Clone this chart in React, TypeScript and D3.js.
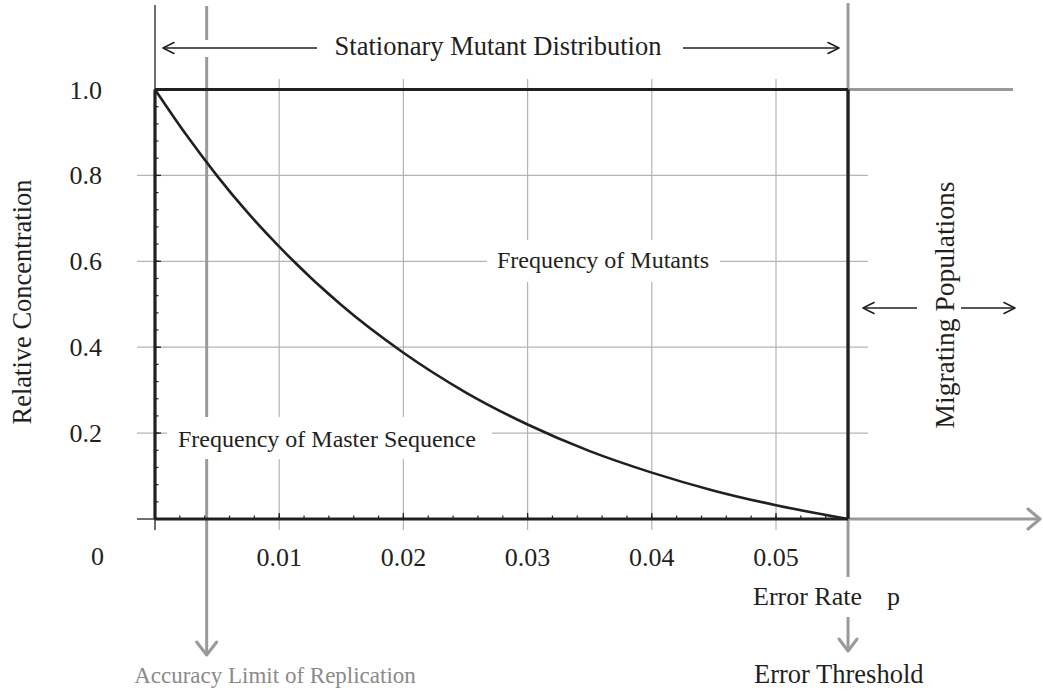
import React from "react";
import * as d3 from "d3";

// ---- data ----
const errorRates = [0, 0.0025, 0.005, 0.0075, 0.01, 0.015, 0.02, 0.025, 0.03, 0.035, 0.04, 0.045, 0.05, 0.0558];
const masterFrequency = [1, 0.895, 0.799, 0.712, 0.634, 0.498, 0.387, 0.295, 0.22, 0.158, 0.108, 0.066, 0.032, 0];
const xTicks = [0.01, 0.02, 0.03, 0.04, 0.05];
const xTickLabels = ["0.01", "0.02", "0.03", "0.04", "0.05"];
const yTicks = [0.2, 0.4, 0.6, 0.8, 1.0];
const yTickLabels = ["0.2", "0.4", "0.6", "0.8", "1.0"];
const errorThreshold = 0.0558;
const accuracyLimit = 0.00416;

const W = 1043;
const H = 693;
const FONT = "'Liberation Serif', 'Times New Roman', serif";
const BLACK = "#231f20";
const GRAY = "#9a9a9a";
const GRID = "#b4b4b4";

export default function App() {
  const x = d3.scaleLinear().domain([0, 0.05]).range([155, 776]);
  const y = d3.scaleLinear().domain([0, 1]).range([519, 89.5]);

  const line = d3
    .line<number>()
    .x((_, i) => x(errorRates[i]))
    .y((d) => y(d))
    .curve(d3.curveMonotoneX);

  const xMinor = d3.range(1, 28).map((i) => i * 0.002).filter((v) => v < errorThreshold - 0.0005);
  const yMinor = d3.range(1, 25).map((i) => i * 0.04);

  const x0 = x(0);
  const xT = x(errorThreshold);
  const xA = x(accuracyLimit);
  const y0 = y(0);
  const y1 = y(1);

  const arrowHead = (tx: number, ty: number, dir: "left" | "right" | "down", len: number, half: number, color: string, sw: number) => {
    let d = "";
    if (dir === "left") d = `M${tx + len},${ty - half} L${tx},${ty} L${tx + len},${ty + half}`;
    if (dir === "right") d = `M${tx - len},${ty - half} L${tx},${ty} L${tx - len},${ty + half}`;
    if (dir === "down") d = `M${tx - half},${ty - len} L${tx},${ty} L${tx + half},${ty - len}`;
    return <path d={d} fill="none" stroke={color} strokeWidth={sw} strokeLinecap="round" strokeLinejoin="round" />;
  };

  return (
    <svg
      width={W}
      height={H}
      viewBox={`0 0 ${W} ${H}`}
      style={{ position: "absolute", left: 0, top: 0, background: "#fff" }}
      fontFamily={FONT}
    >
      <rect x={0} y={0} width={W} height={H} fill="#fff" />

      {/* horizontal gridlines */}
      {yTicks.slice(0, 4).map((t) => (
        <line key={"hg" + t} x1={137} x2={868} y1={y(t)} y2={y(t)} stroke={GRID} strokeWidth={1.2} />
      ))}
      {/* vertical gridlines */}
      {xTicks.map((t) => (
        <line key={"vg" + t} x1={x(t)} x2={x(t)} y1={79} y2={530} stroke={GRID} strokeWidth={1.2} />
      ))}

      {/* gray accuracy limit line */}
      <line x1={xA} x2={xA} y1={6} y2={654} stroke={GRAY} strokeWidth={3} />
      {arrowHead(xA, 655, "down", 13, 10, GRAY, 3)}

      {/* gray error threshold line */}
      <line x1={xT} x2={xT} y1={3} y2={650} stroke={GRAY} strokeWidth={3} />
      {arrowHead(xT, 651, "down", 12, 9, GRAY, 3)}
      {/* gray extension of 1.0 line */}
      <line x1={xT} x2={1013} y1={y1} y2={y1} stroke={GRAY} strokeWidth={3} />
      {/* gray extension of x axis with arrow */}
      <line x1={xT} x2={1039} y1={y0} y2={y0} stroke={GRAY} strokeWidth={3} />
      {arrowHead(1040, y0, "right", 12, 10, GRAY, 3)}

      {/* white backgrounds behind labels */}
      <rect x={160} y={40} width={160} height={17} fill="#fff" />
      <rect x={487} y={240} width={233} height={42} fill="#fff" />
      <rect x={167} y={417} width={325} height={42} fill="#fff" />
      <rect x={748} y={577} width={160} height={40} fill="#fff" />

      {/* thin axis extensions */}
      <line x1={x0} x2={x0} y1={5} y2={530} stroke={BLACK} strokeWidth={1.3} />
      <line x1={137} x2={x0} y1={y0} y2={y0} stroke={BLACK} strokeWidth={1.3} />

      {/* minor ticks */}
      {xMinor.map((t) => (
        <line key={"xm" + t} x1={x(t)} x2={x(t)} y1={y0 - 3.5} y2={y0} stroke={BLACK} strokeWidth={1.2} />
      ))}
      {yMinor.map((t) => (
        <line key={"ym" + t} x1={x0} x2={x0 + 3.5} y1={y(t)} y2={y(t)} stroke={BLACK} strokeWidth={1.2} />
      ))}
      {xTicks.map((t) => (
        <line key={"xM" + t} x1={x(t)} x2={x(t)} y1={y0 - 6} y2={y0} stroke={BLACK} strokeWidth={1.3} />
      ))}
      {yTicks.map((t) => (
        <line key={"yM" + t} x1={x0} x2={x0 + 6} y1={y(t)} y2={y(t)} stroke={BLACK} strokeWidth={1.3} />
      ))}

      {/* black frame */}
      <line x1={x0} x2={xT} y1={y1} y2={y1} stroke={BLACK} strokeWidth={3.2} />
      <line x1={x0} x2={xT} y1={y0} y2={y0} stroke={BLACK} strokeWidth={3.2} />
      <line x1={x0} x2={x0} y1={y1} y2={y0} stroke={BLACK} strokeWidth={3.2} />
      <line x1={xT} x2={xT} y1={y1} y2={y0} stroke={BLACK} strokeWidth={3.2} />

      {/* master sequence curve */}
      <path d={line(masterFrequency) || ""} fill="none" stroke={BLACK} strokeWidth={2.6} />

      {/* tick labels */}
      {xTicks.map((t, i) => (
        <text key={"xl" + t} x={x(t)} y={566} textAnchor="middle" fontSize={26} fill={BLACK}>
          {xTickLabels[i]}
        </text>
      ))}
      {yTicks.map((t, i) => (
        <text key={"yl" + t} x={102} y={y(t) + 9} textAnchor="end" fontSize={26} fill={BLACK}>
          {yTickLabels[i]}
        </text>
      ))}
      <text x={97.5} y={565} textAnchor="middle" fontSize={26} fill={BLACK}>0</text>

      {/* axis titles */}
      <text transform="translate(31,302) rotate(-90)" textAnchor="middle" fontSize={26.5} fill={BLACK}>
        Relative Concentration
      </text>
      <text x={753} y={605} fontSize={26} fill={BLACK}>Error Rate</text>
      <text x={887} y={605} fontSize={26} fill={BLACK}>p</text>

      {/* annotations */}
      <text x={498} y={55} textAnchor="middle" fontSize={26.5} fill={BLACK}>
        Stationary Mutant Distribution
      </text>
      <line x1={164} x2={317} y1={48} y2={48} stroke={BLACK} strokeWidth={1.6} />
      {arrowHead(163, 48, "left", 11, 5.5, BLACK, 1.6)}
      <line x1={683} x2={838} y1={48} y2={48} stroke={BLACK} strokeWidth={1.6} />
      {arrowHead(839, 48, "right", 11, 5.5, BLACK, 1.6)}

      <text x={603} y={268} textAnchor="middle" fontSize={24} fill={BLACK}>Frequency of Mutants</text>
      <text x={178} y={447} fontSize={24} fill={BLACK}>Frequency of Master Sequence</text>

      <text transform="translate(954,305) rotate(-90)" textAnchor="middle" fontSize={27.5} fill={BLACK}>
        Migrating Populations
      </text>
      <line x1={864} x2={917} y1={308} y2={308} stroke={BLACK} strokeWidth={1.6} />
      {arrowHead(863, 308, "left", 11, 5.5, BLACK, 1.6)}
      <line x1={961} x2={1014} y1={308} y2={308} stroke={BLACK} strokeWidth={1.6} />
      {arrowHead(1015, 308, "right", 11, 5.5, BLACK, 1.6)}

      <text x={754} y={683} fontSize={26.5} fill={BLACK}>Error Threshold</text>
      <text x={275} y={683} textAnchor="middle" fontSize={23} fill="#8a8a8a">Accuracy Limit of Replication</text>
    </svg>
  );
}
